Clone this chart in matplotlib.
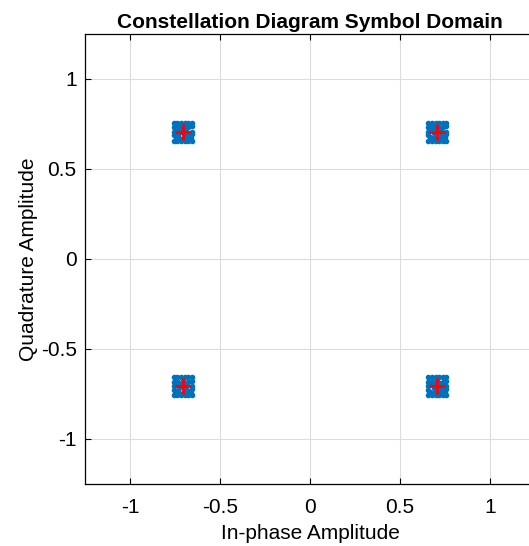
import matplotlib
matplotlib.use('Agg')
import matplotlib.pyplot as plt

plt.rcParams['font.family'] = ['Liberation Sans', 'DejaVu Sans']

# ideal QPSK constellation points
ref_i = [-0.7071, 0.7071, -0.7071, 0.7071]
ref_q = [0.7071, 0.7071, -0.7071, -0.7071]

# received symbols, read as offsets from each ideal point
off_i = [-0.05, -0.03, -0.01, 0.01, 0.03, 0.05,
         -0.05, -0.03, 0.03, 0.05,
         -0.05, -0.02, 0.0, 0.02, 0.05,
         -0.05, -0.03, -0.01, 0.01, 0.03, 0.05,
         -0.04, -0.02, 0.0, 0.02, 0.04,
         -0.05, 0.05, -0.045, 0.045,
         -0.01, 0.01, 0.0, -0.02, 0.02]
off_q = [0.05, 0.05, 0.05, 0.05, 0.05, 0.05,
         0.025, 0.03, 0.025, 0.03,
         0.0, -0.01, 0.0, 0.01, 0.0,
         -0.05, -0.05, -0.05, -0.05, -0.05, -0.05,
         -0.03, -0.035, -0.04, -0.03, -0.025,
         -0.02, -0.015, 0.015, -0.035,
         0.02, 0.02, 0.03, 0.015, -0.015]

rx_i = []
rx_q = []
for ci, cq in zip(ref_i, ref_q):
    for di, dq in zip(off_i, off_q):
        rx_i.append(ci + di)
        rx_q.append(cq + dq)

fig = plt.figure(figsize=(5.29, 5.46), dpi=100)
ax = fig.add_axes([0.1607, 0.1136, 0.8507, 0.8242])

ax.plot(rx_i, rx_q, '.', color='#0072BD', markersize=6)
ax.plot(ref_i, ref_q, '+', color='red', markersize=12, markeredgewidth=2)

ax.set_xlim(-1.25, 1.25)
ax.set_ylim(-1.25, 1.25)
ax.set_xticks([-1, -0.5, 0, 0.5, 1])
ax.set_yticks([-1, -0.5, 0, 0.5, 1])
ax.set_xticklabels(['-1', '-0.5', '0', '0.5', '1'])
ax.set_yticklabels(['-1', '-0.5', '0', '0.5', '1'])
ax.grid(True, color='#dcdcdc', linewidth=0.8)
ax.set_axisbelow(True)
ax.tick_params(direction='in', top=True, right=True, labelsize=15, length=4)
ax.tick_params(axis='x', pad=10)
ax.tick_params(axis='y', pad=6)
for s in ax.spines.values():
    s.set_linewidth(0.9)

ax.set_title('Constellation Diagram Symbol Domain', fontsize=15, fontweight='bold', pad=4)
ax.set_xlabel('In-phase Amplitude', fontsize=15, labelpad=5)
ax.set_ylabel('Quadrature Amplitude', fontsize=15, labelpad=2)

fig.savefig('out.png', dpi=100)
